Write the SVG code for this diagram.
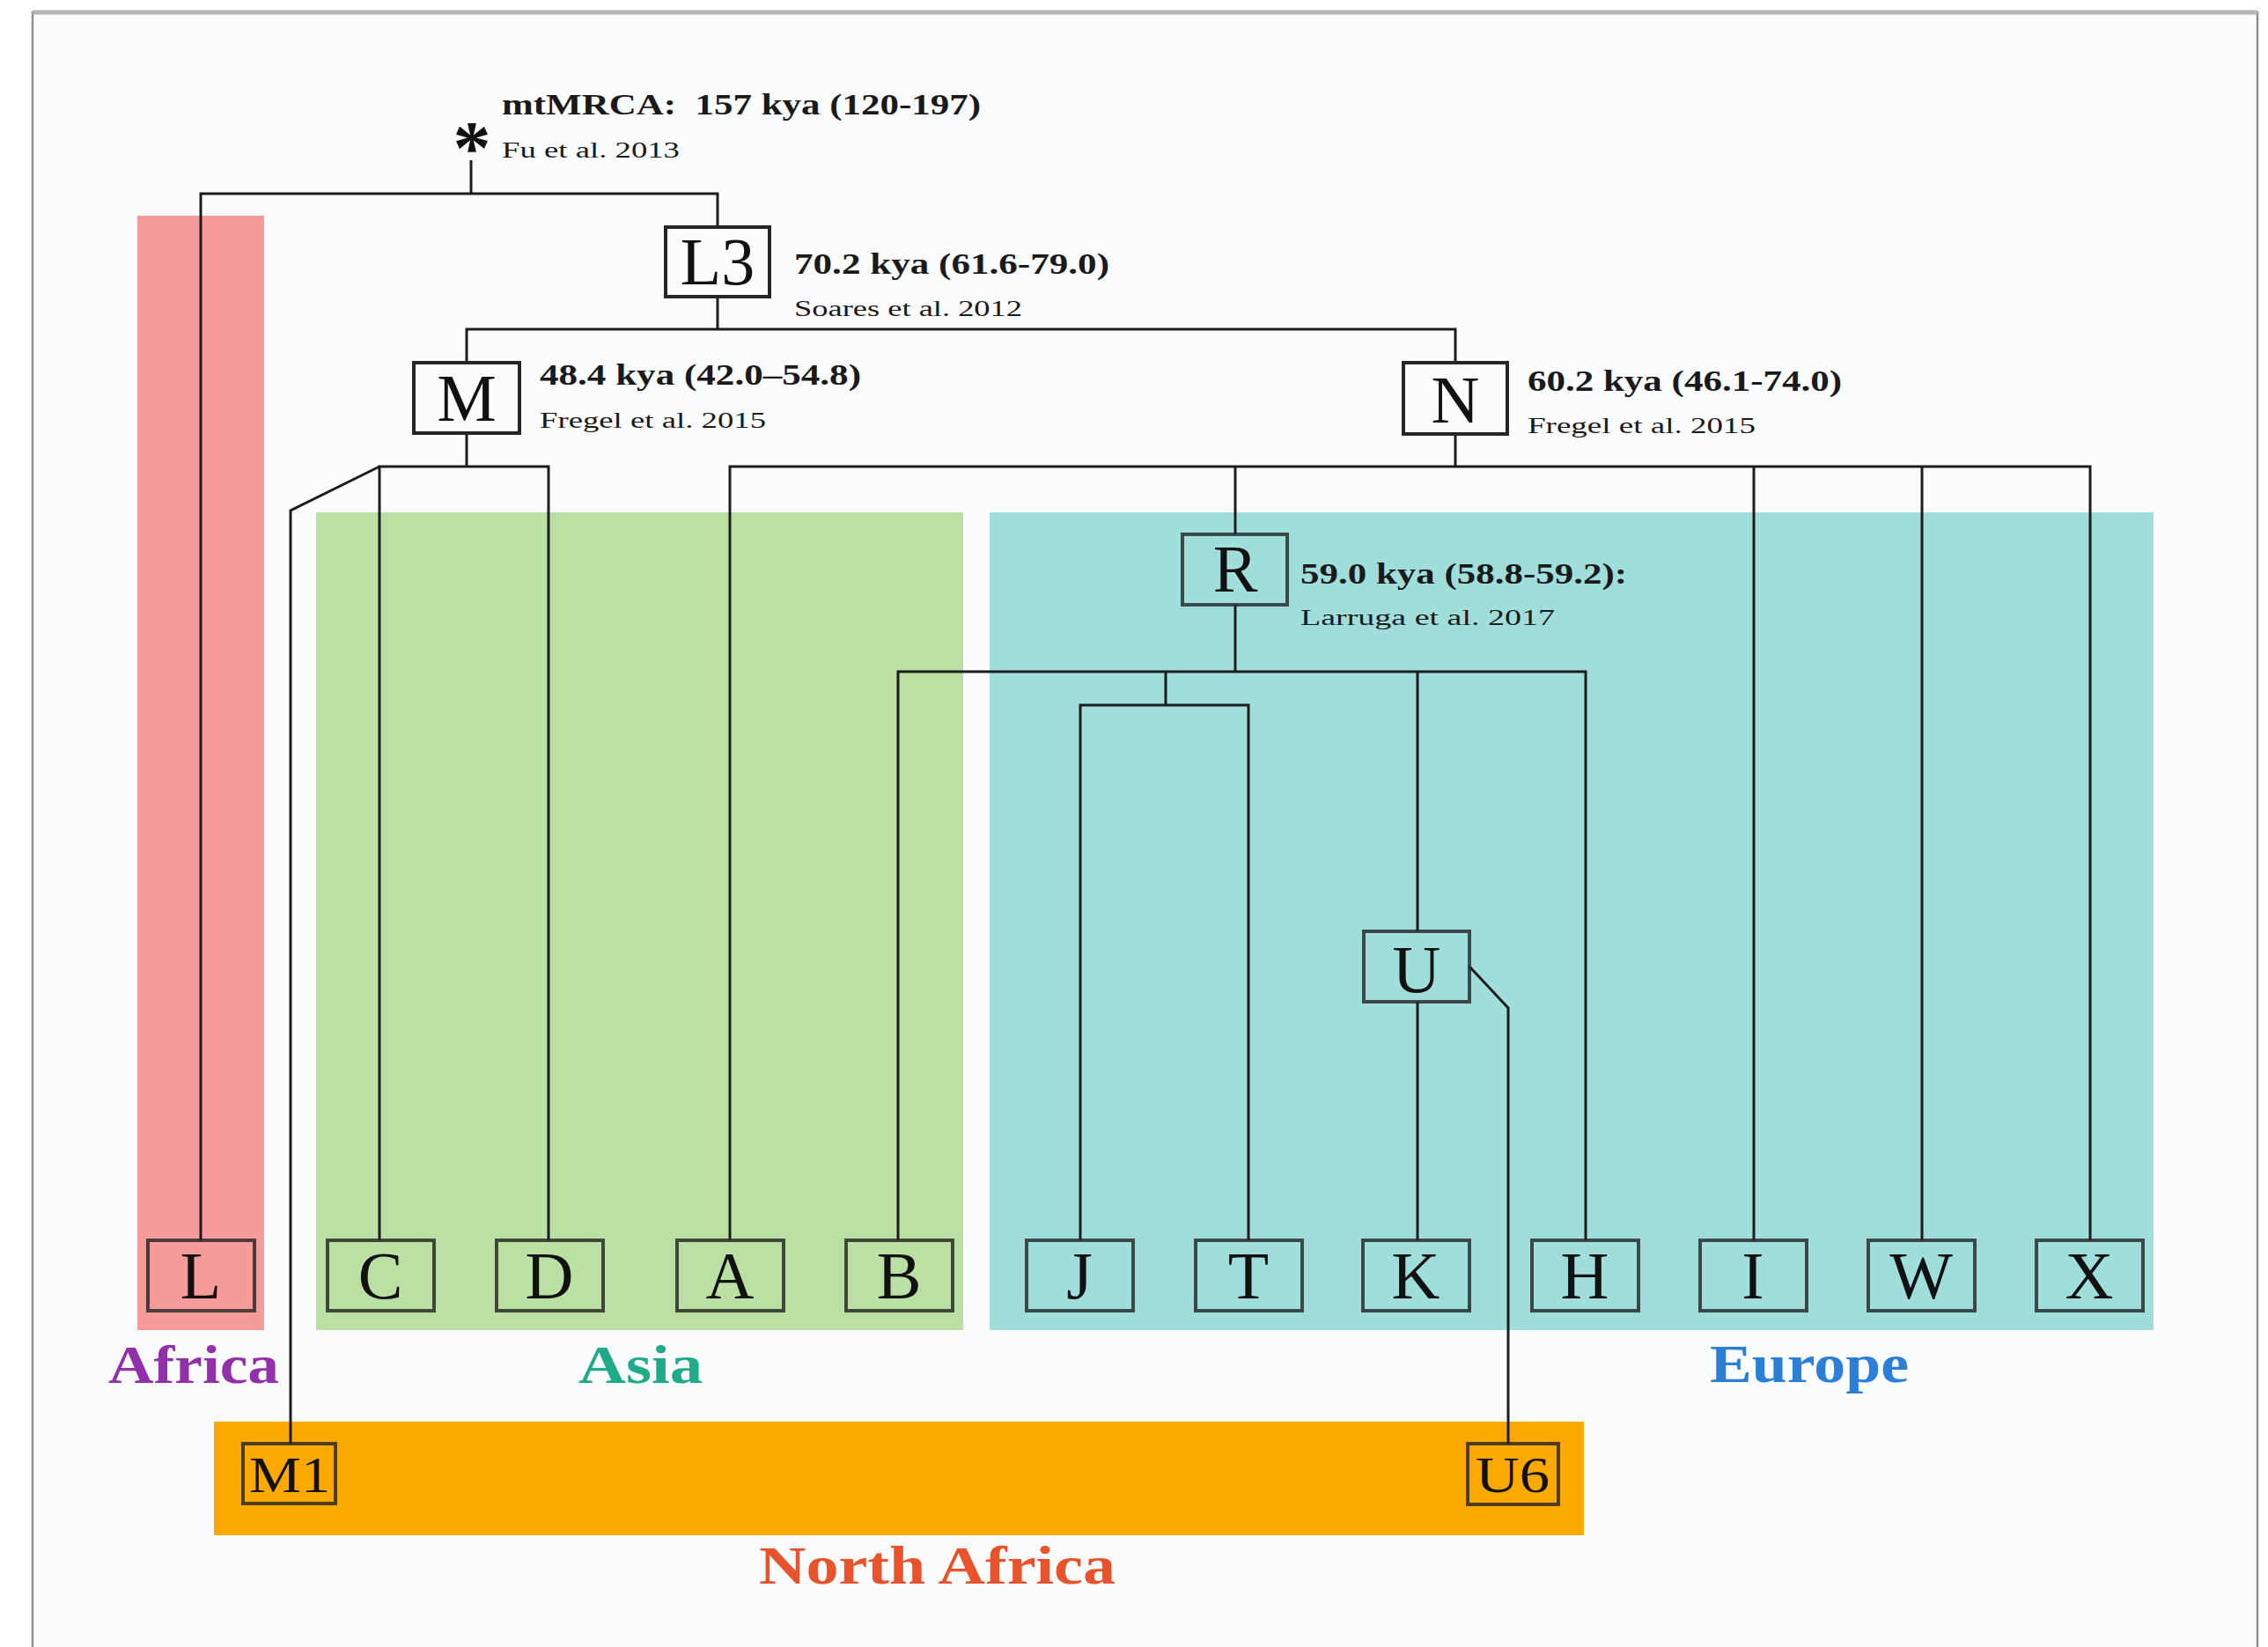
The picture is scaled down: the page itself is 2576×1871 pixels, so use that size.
<svg xmlns="http://www.w3.org/2000/svg" width="2576" height="1871" viewBox="0 0 2576 1871">
<style>
.line{fill:none;stroke:#1c1c1c;stroke-width:3;stroke-linejoin:miter}
.box{fill:none;stroke:#222;stroke-width:4;stroke-opacity:0.8}
.wbox{fill:#fbfcfd;stroke:#262626;stroke-width:4}
.lbl{font-family:"Liberation Serif","Times New Roman",serif;font-size:76px;fill:#111;text-anchor:middle}
.sml{font-family:"Liberation Serif","Times New Roman",serif;font-size:58px;fill:#111;text-anchor:middle}
.date{font-family:"Liberation Serif","Times New Roman",serif;font-size:34px;font-weight:bold;fill:#1a1a1a}
.cite{font-family:"Liberation Serif","Times New Roman",serif;font-size:26px;fill:#1a1a1a}
.reg{font-family:"Liberation Serif","Times New Roman",serif;font-size:62px;font-weight:bold}
</style>
<rect x="0" y="0" width="2576" height="1871" fill="#ffffff"/>
<rect x="37" y="14" width="2527" height="1860" fill="#fafcfd" stroke="#8f8f8f" stroke-width="2.5"/>
<line x1="37" y1="14" x2="2564" y2="14" stroke="#b5b5b5" stroke-width="5"/>

<g id="regions">
<rect id="region-africa" x="156" y="245" width="144" height="1266" fill="#f79a9a"/>
<rect id="region-asia" x="359" y="582" width="735" height="929" fill="#bbe0a4"/>
<rect id="region-europe" x="1124" y="582" width="1322" height="929" fill="#a0dedb"/>
<rect id="region-northafrica" x="243" y="1615" width="1556" height="129" fill="#fba900"/>
</g>

<g id="connectors">
<path class="line" d="M535 182 V220"/>
<path class="line" d="M228 1409 V220 H815 V258"/>
<path class="line" d="M815 337 V374"/>
<path class="line" d="M530 412 V374 H1653 V412"/>
<path class="line" d="M530 492 V530"/>
<path class="line" d="M431 1409 V530 H623 V1409"/>
<path class="line" d="M431 530 L330 580 V1640"/>
<path class="line" d="M1653 494 V530"/>
<path class="line" d="M829 1409 V530 H2374 V1409"/>
<path class="line" d="M1403 530 V607"/>
<path class="line" d="M1992 530 V1409"/>
<path class="line" d="M2183 530 V1409"/>
<path class="line" d="M1403 687 V763"/>
<path class="line" d="M1020 1409 V763 H1801 V1409"/>
<path class="line" d="M1324 763 V801"/>
<path class="line" d="M1227 1409 V801 H1418 V1409"/>
<path class="line" d="M1610 763 V1058"/>
<path class="line" d="M1610 1138 V1409"/>
<path class="line" d="M1669 1098 L1713 1145 V1640"/>
</g>

<g id="root">
<text x="536" y="197" font-family="Liberation Serif, serif" font-size="86" font-weight="bold" text-anchor="middle" fill="#111">*</text>
<text class="date" x="570" y="130" textLength="544" lengthAdjust="spacingAndGlyphs">mtMRCA:&#160; 157 kya (120-197)</text>
<text class="cite" x="570" y="179" textLength="202" lengthAdjust="spacingAndGlyphs">Fu et al. 2013</text>
</g>

<g id="node-L3">
<rect class="wbox" x="756" y="258" width="118" height="79"/>
<text class="lbl" x="815" y="323">L3</text>
<text class="date" x="902" y="311" textLength="358" lengthAdjust="spacingAndGlyphs">70.2 kya (61.6-79.0)</text>
<text class="cite" x="902" y="359" textLength="259" lengthAdjust="spacingAndGlyphs">Soares et al. 2012</text>
</g>

<g id="node-M">
<rect class="wbox" x="470" y="412" width="120" height="80"/>
<text class="lbl" x="530" y="478">M</text>
<text class="date" x="613" y="437" textLength="365" lengthAdjust="spacingAndGlyphs">48.4 kya (42.0–54.8)</text>
<text class="cite" x="613" y="486" textLength="257" lengthAdjust="spacingAndGlyphs">Fregel et al. 2015</text>
</g>

<g id="node-N">
<rect class="wbox" x="1594" y="412" width="118" height="81"/>
<text class="lbl" x="1653" y="480">N</text>
<text class="date" x="1735" y="444" textLength="357" lengthAdjust="spacingAndGlyphs">60.2 kya (46.1-74.0)</text>
<text class="cite" x="1735" y="492" textLength="259" lengthAdjust="spacingAndGlyphs">Fregel et al. 2015</text>
</g>

<g id="node-R">
<rect class="box" x="1343" y="607" width="119" height="80"/>
<text class="lbl" x="1403" y="672">R</text>
<text class="date" x="1477" y="663" textLength="371" lengthAdjust="spacingAndGlyphs">59.0 kya (58.8-59.2):</text>
<text class="cite" x="1477" y="710" textLength="289" lengthAdjust="spacingAndGlyphs">Larruga et al. 2017</text>
</g>

<g id="node-U">
<rect class="box" x="1549" y="1058" width="120" height="80"/>
<text class="lbl" x="1609" y="1127">U</text>
</g>

<g id="node-L"><rect class="box" x="168" y="1409" width="121" height="80"/><text class="lbl" x="228" y="1475">L</text></g>
<g id="node-C"><rect class="box" x="372" y="1409" width="121" height="80"/><text class="lbl" x="432" y="1475">C</text></g>
<g id="node-D"><rect class="box" x="564" y="1409" width="121" height="80"/><text class="lbl" x="624" y="1475">D</text></g>
<g id="node-A"><rect class="box" x="769" y="1409" width="121" height="80"/><text class="lbl" x="829" y="1475">A</text></g>
<g id="node-B"><rect class="box" x="961" y="1409" width="121" height="80"/><text class="lbl" x="1021" y="1475">B</text></g>
<g id="node-J"><rect class="box" x="1166" y="1409" width="121" height="80"/><text class="lbl" x="1226" y="1475">J</text></g>
<g id="node-T"><rect class="box" x="1358" y="1409" width="121" height="80"/><text class="lbl" x="1418" y="1475">T</text></g>
<g id="node-K"><rect class="box" x="1548" y="1409" width="121" height="80"/><text class="lbl" x="1608" y="1475">K</text></g>
<g id="node-H"><rect class="box" x="1740" y="1409" width="121" height="80"/><text class="lbl" x="1800" y="1475">H</text></g>
<g id="node-I"><rect class="box" x="1931" y="1409" width="121" height="80"/><text class="lbl" x="1991" y="1475">I</text></g>
<g id="node-W"><rect class="box" x="2122" y="1409" width="121" height="80"/><text class="lbl" x="2182" y="1475">W</text></g>
<g id="node-X"><rect class="box" x="2313" y="1409" width="121" height="80"/><text class="lbl" x="2373" y="1475">X</text></g>

<g id="node-M1"><rect class="box" x="276" y="1640" width="105" height="68"/><text class="sml" x="329" y="1695" textLength="92" lengthAdjust="spacingAndGlyphs">M1</text></g>
<g id="node-U6"><rect class="box" x="1667" y="1640" width="103" height="69"/><text class="sml" x="1718" y="1695" textLength="84" lengthAdjust="spacingAndGlyphs">U6</text></g>

<g id="labels">
<text class="reg" x="123" y="1571" fill="#922faa" textLength="194" lengthAdjust="spacingAndGlyphs">Africa</text>
<text class="reg" x="657" y="1571" fill="#1faa8a" textLength="141" lengthAdjust="spacingAndGlyphs">Asia</text>
<text class="reg" x="1942" y="1570" fill="#2b7fd6" textLength="226" lengthAdjust="spacingAndGlyphs">Europe</text>
<text class="reg" x="862" y="1799" fill="#e9532b" textLength="405" lengthAdjust="spacingAndGlyphs">North Africa</text>
</g>
</svg>
